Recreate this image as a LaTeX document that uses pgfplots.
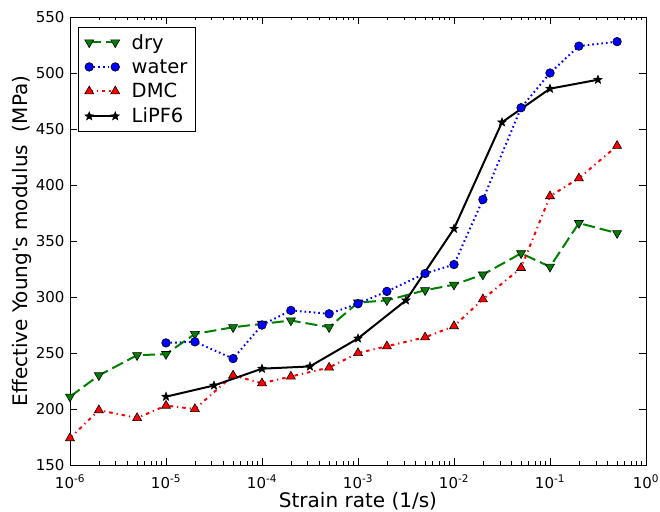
\documentclass[border=0pt]{standalone}
\usepackage{pgfplots}
\pgfplotsset{compat=1.18}
\usepackage{fontspec}
\setmainfont{DejaVu Sans}[Ligatures=TeXOff]
\definecolor{mgreen}{rgb}{0,0.5,0}
\definecolor{mblue}{rgb}{0,0,1}
\definecolor{mred}{rgb}{1,0,0}
\pgfdeclareplotmark{fstar}{%
  \pgfpathmoveto{\pgfpointpolar{90}{\pgfplotmarksize}}%
  \pgfpathlineto{\pgfpointpolar{126}{0.42\pgfplotmarksize}}%
  \pgfpathlineto{\pgfpointpolar{162}{\pgfplotmarksize}}%
  \pgfpathlineto{\pgfpointpolar{198}{0.42\pgfplotmarksize}}%
  \pgfpathlineto{\pgfpointpolar{234}{\pgfplotmarksize}}%
  \pgfpathlineto{\pgfpointpolar{270}{0.42\pgfplotmarksize}}%
  \pgfpathlineto{\pgfpointpolar{306}{\pgfplotmarksize}}%
  \pgfpathlineto{\pgfpointpolar{342}{0.42\pgfplotmarksize}}%
  \pgfpathlineto{\pgfpointpolar{18}{\pgfplotmarksize}}%
  \pgfpathlineto{\pgfpointpolar{54}{0.42\pgfplotmarksize}}%
  \pgfpathclose
  \pgfusepathqfillstroke}
\begin{document}
\begin{tikzpicture}
\useasboundingbox (0,0) rectangle (660bp,512bp);
\begin{axis}[
  at={(70bp,47bp)}, anchor=south west,
  scale only axis, width=576bp, height=448bp,
  xmode=log, xmin=1e-6, xmax=1, ymin=150, ymax=550,
  ytick={150,200,250,300,350,400,450,500,550},
  xtick={1e-6,1e-5,1e-4,1e-3,1e-2,1e-1,1},
  xticklabels={10\textsuperscript{-6},10\textsuperscript{-5},10\textsuperscript{-4},10\textsuperscript{-3},10\textsuperscript{-2},10\textsuperscript{-1},10\textsuperscript{0}},
  tick align=inside,
  major tick length=7bp, minor tick length=3.5bp,
  every tick/.style={black, line width=0.6bp},
  axis line style={line width=0.8bp},
  ticklabel style={font=\fontsize{15bp}{18bp}\selectfont, /pgf/number format/assume math mode=true},
  xticklabel style={anchor=base, yshift=-23bp},
  yticklabel style={xshift=-2bp},
  xlabel={Strain rate (1/s)},
  ylabel={Effective Young's modulus \ (MPa)},
  label style={font=\fontsize{20bp}{24bp}\selectfont},
  xlabel style={at={(axis description cs:0.5,0)}, anchor=base, yshift=-42bp},
  ylabel style={at={(axis description cs:0,0.5)}, anchor=base, yshift=42bp},
  legend style={at={(axis description cs:0.0145,0.978)}, anchor=north west, draw=black, line width=0.8bp,
    font=\fontsize{19.5bp}{23bp}\selectfont, row sep=4.8bp, inner xsep=6bp, inner ysep=5bp,
    /tikz/every odd column/.append style={column sep=10bp}},
  legend cell align=left,
  legend image code/.code={\draw[#1] plot coordinates {(0bp,0bp) (26bp,0bp)};},
]
\addplot[mgreen, line width=2bp, dash pattern=on 12bp off 5bp,
  mark=triangle*, mark size=5.2bp, mark options={solid, rotate=180, fill=mgreen, draw=black, line width=0.6bp}]
  coordinates {(1e-6,211) (2e-6,230) (5e-6,248) (1e-5,249) (2e-5,267) (5e-5,273) (1e-4,276) (2e-4,279) (5e-4,273) (1e-3,295) (2e-3,297) (5e-3,306) (1e-2,311) (2e-2,320) (5e-2,339) (1e-1,327) (2e-1,366) (5e-1,357)};
\addlegendentry{dry}
\addplot[mblue, line width=2bp, dash pattern=on 1.6bp off 3bp,
  mark=*, mark size=4.3bp, mark options={solid, fill=mblue, draw=black, line width=0.6bp}]
  coordinates {(1e-5,259) (2e-5,260) (5e-5,245) (1e-4,275) (2e-4,288) (5e-4,285) (1e-3,294) (2e-3,305) (5e-3,321) (1e-2,329) (2e-2,387) (5e-2,469) (1e-1,500) (2e-1,524) (5e-1,528)};
\addlegendentry{water}
\addplot[mred, line width=2bp, dash pattern=on 3.5bp off 4bp on 1.2bp off 4bp,
  mark=triangle*, mark size=5.2bp, mark options={solid, fill=mred, draw=black, line width=0.6bp}]
  coordinates {(1e-6,174) (2e-6,199) (5e-6,192) (1e-5,203) (2e-5,200) (5e-5,230) (1e-4,223) (2e-4,229) (5e-4,237) (1e-3,250) (2e-3,256) (5e-3,264) (1e-2,274) (2e-2,298) (5e-2,326) (1e-1,390) (2e-1,406) (5e-1,435)};
\addlegendentry{DMC}
\addplot[black, line width=2bp, solid,
  mark=fstar, mark size=4.5bp, mark options={solid, fill=black, line width=0.5bp}]
  coordinates {(1e-5,211) (3.16e-5,221) (1e-4,236) (3.16e-4,238) (1e-3,263) (3.16e-3,297) (1e-2,361) (3.16e-2,456) (1e-1,486) (3.16e-1,494)};
\addlegendentry{LiPF6}
\end{axis}
\end{tikzpicture}
\end{document}
